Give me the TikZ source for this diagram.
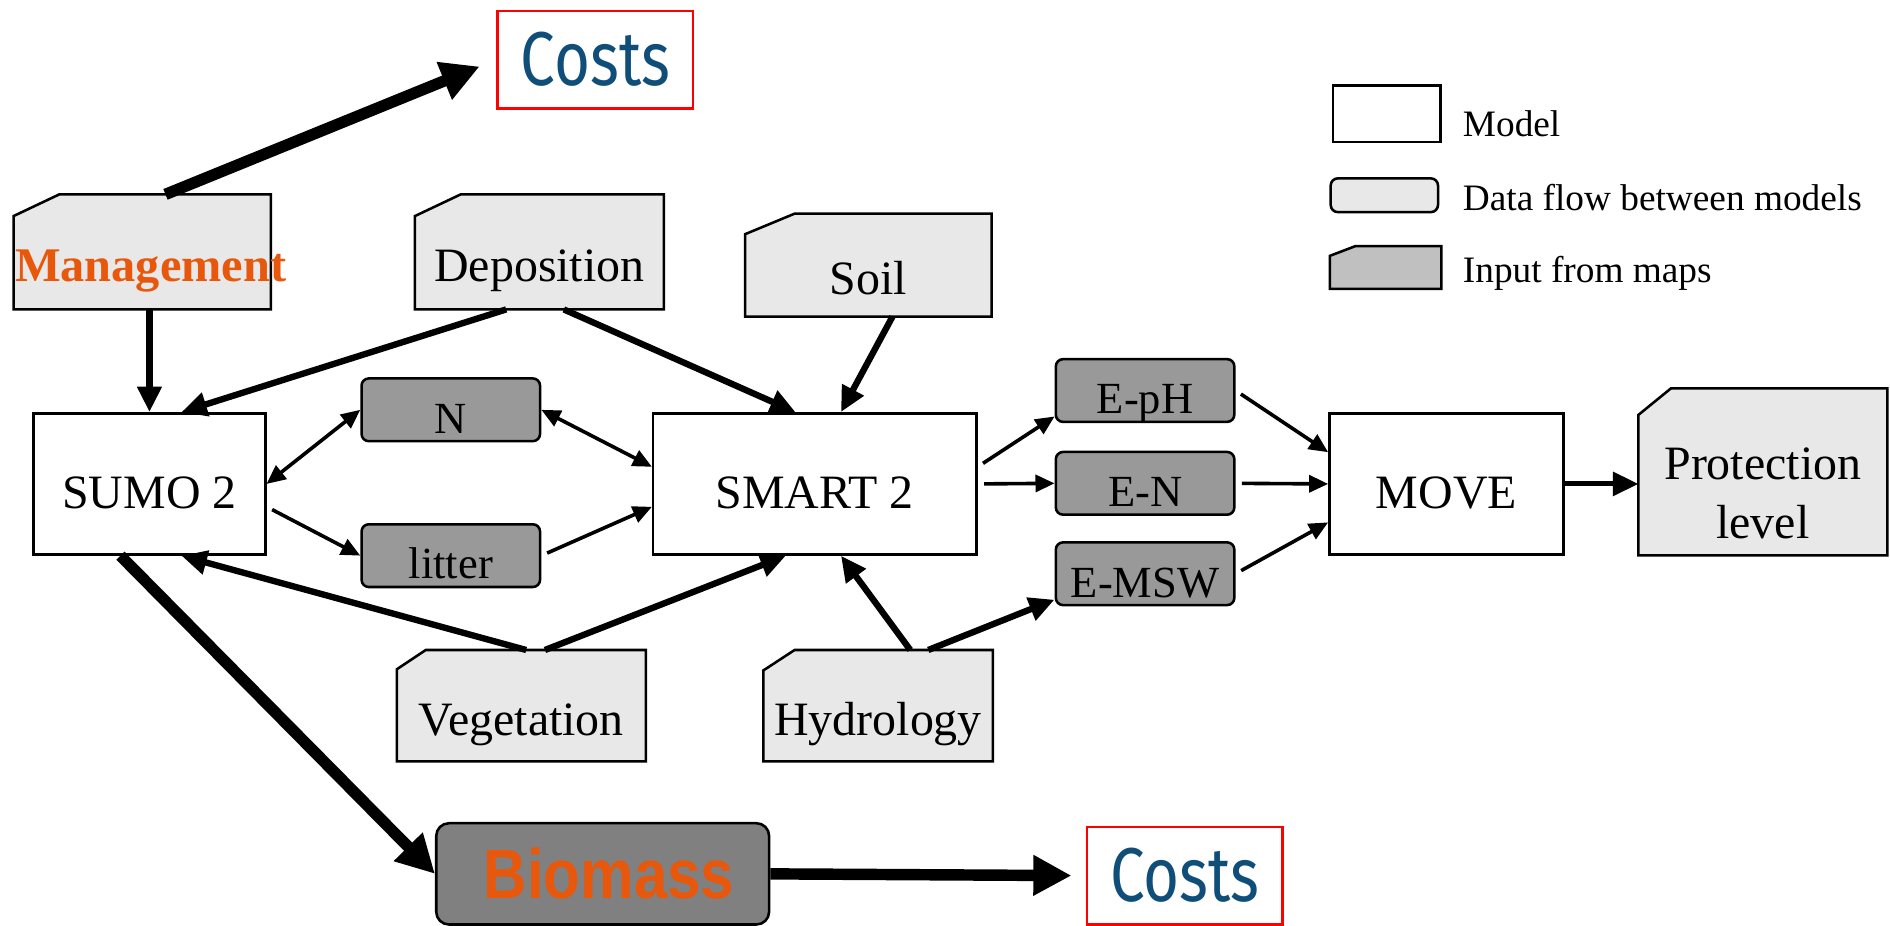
\documentclass[tikz,border=0pt]{standalone}
\usepackage{fontspec}
\setmainfont{Liberation Serif}
\newfontfamily\costsfont[FakeStretch=0.81]{Fira Sans}
\newfontfamily\boldsans[FakeStretch=0.86]{Liberation Sans}
\usetikzlibrary{arrows.meta}
\pgfdeclarelayer{background}
\pgfsetlayers{background,main}

\definecolor{costblue}{RGB}{16,78,122}
\definecolor{mgmtorange}{RGB}{232,88,12}
\definecolor{mapgray}{RGB}{232,232,232}
\definecolor{flowgray}{RGB}{153,153,153}
\definecolor{biogray}{RGB}{128,128,128}
\definecolor{leggray}{RGB}{192,192,192}

\tikzset{
  model/.style={draw, fill=white, line width=0.6pt, minimum width=#1, minimum height=1.17cm, inner sep=0pt, font=\fontsize{11.3}{13}\selectfont, text height=11.6pt, text depth=0pt},
  flow/.style={draw, fill=flowgray, rounded corners=1.7pt, line width=0.6pt, minimum width=1.48cm, minimum height=0.52cm, inner sep=0pt, font=\fontsize{10.5}{12}\selectfont, text height=11pt, text depth=0pt},
  mapin/.style={minimum width=#1, inner sep=0pt, font=\fontsize{11.3}{13}\selectfont, text height=14pt, text depth=0pt},
  mapline/.style={draw, fill=mapgray, line width=0.6pt},
  costbox/.style={draw=red, line width=0.6pt, minimum width=1.62cm, minimum height=0.81cm, inner sep=0pt, text=costblue, font=\costsfont\fontsize{18}{20}\selectfont},
  thinarr/.style={line width=0.85pt, shorten <=1.5pt, -{Triangle[length=4.5pt,width=4pt]}},
  dblarr/.style={line width=0.85pt, {Triangle[length=4.5pt,width=4pt]}-{Triangle[length=4.5pt,width=4pt]}},
  thickarr/.style={line width=1.5pt, -{Triangle[length=6pt,width=5.5pt]}},
  hugearr/.style={line width=2.7pt, -{Triangle[length=9pt,width=9pt]}},
  legtext/.style={anchor=base west, inner sep=0pt, font=\fontsize{8.8}{10}\selectfont}
}

\begin{document}
\begin{tikzpicture}[x=0.01cm, y=-0.01cm]
        % Define Variables
        \def\midrow{401.5}
        \def\maprow{209}
        \def\lowrow{585.5}
        \useasboundingbox (0,0) rectangle (1568,768);

        % Models
        \node[model=1.92cm] (sumo) at (124,\midrow) {SUMO 2};
        \node[model=2.68cm] (smart) at (676,\midrow) {SMART 2};
        \node[model=1.94cm] (move) at (1200,\midrow) {MOVE};

        % Data flow between models
        \node[flow] (nbox) at (374,340) {N};
        \node[flow] (litter) at (374,461) {litter};
        \node[flow] (eph) at (950,324) {E-pH};
        \node[flow] (en) at (950,401) {E-N};
        \node[flow] (emsw) at (950,476) {E-MSW};

        % Input from maps
        \node[mapin=2.12cm, minimum height=0.94cm, text=mgmtorange, font=\fontsize{11.4}{13}\selectfont\bfseries] (mgmt) at (118,\maprow) {\makebox[0pt]{\hspace*{4pt}Management}};
        \node[mapin=2.05cm, minimum height=0.94cm] (depo) at (447.5,\maprow) {Deposition};
        \node[mapin=2.03cm, minimum height=0.84cm] (soil) at (720.5,220) {Soil};
        \node[mapin=2.05cm, minimum height=0.91cm] (vege) at (432.5,\lowrow) {Vegetation};
        \node[mapin=1.89cm, minimum height=0.91cm] (hydro) at (728.5,\lowrow) {Hydrology};
        \node[mapin=2.05cm, minimum height=1.37cm, align=center, text height=31.6pt, text depth=0pt, font=\fontsize{11.3}{14}\selectfont] (prot) at (1462.5,391.5) {Protection\\level};

        % Biomass and costs
        \node[draw, fill=biogray, rounded corners=3pt, line width=0.6pt, minimum width=2.76cm, minimum height=0.84cm, inner sep=0pt, text=mgmtorange, font=\boldsans\bfseries\fontsize{16.5}{18}\selectfont] (biomass) at (500,725) {\hspace*{3pt}Biomass};
        \node[costbox] (costsA) at (494,49.5) {Costs};
        \node[costbox] (costsB) at (983,726.5) {Costs};

        % Legend
        \node[draw, fill=white, line width=0.6pt, minimum width=0.89cm, minimum height=0.47cm, inner sep=0pt] (legmodel) at (1150.5,94.5) {};
        \node[legtext] (legmodeltxt) at (1213,113) {Model};
        \node[draw, fill=mapgray, rounded corners=1.7pt, line width=0.6pt, minimum width=0.89cm, minimum height=0.28cm, inner sep=0pt] (legflow) at (1148.5,162) {};
        \node[legtext] (legflowtxt) at (1213,175) {Data flow between models};
        \node[minimum width=0.91cm, minimum height=0.34cm, inner sep=0pt] (leginput) at (1149.5,222) {};
        \node[legtext] (leginputtxt) at (1213,234) {Input from maps};

        % Cut corner boxes
        \begin{pgfonlayer}{background}
            \foreach \n/\cx/\cy in {mgmt/38/18, depo/38/18, soil/41/17, vege/24/16, hydro/26/17, prot/27/22}
                \filldraw[mapline] (\n.north west) ++(0,\cy) -- ++(\cx,-\cy) -- (\n.north east) -- (\n.south east) -- (\n.south west) -- cycle;
            \filldraw[mapline, fill=leggray] (leginput.north west) ++(0,8) -- ++(21,-8) -- (leginput.north east) -- (leginput.south east) -- (leginput.south west) -- cycle;
        \end{pgfonlayer}

        % Inputs to the models
        \draw[hugearr, shorten >=4.3pt] (mgmt.68) -- (costsA.west);
        \draw[thickarr] (sumo.north |- mgmt.south) -- (sumo.north);
        \draw[thickarr] (depo.240) -- (sumo.66);
        \draw[thickarr] (depo.293) -- (smart.105);
        \draw[thickarr] (soil.295) -- (smart.70);
        \draw[thickarr] (vege.85) -- (sumo.294);
        \draw[thickarr] (vege.67) -- (smart.248);
        \draw[thickarr] (hydro.60) -- (smart.290);
        \draw[thickarr] (hydro.48) -- (emsw.196);

        % Exchange between SUMO and SMART
        \draw[dblarr] (sumo.east) -- (nbox.west);
        \draw[dblarr] (nbox.east) -- (smart.174);
        \draw[thinarr] (sumo.349) -- (litter.west);
        \draw[thinarr] (litter.east) -- (smart.188);

        % SMART to MOVE
        \draw[thinarr] (smart.6) -- (eph.196);
        \draw[thinarr] (smart.east) -- (en.west);
        \draw[thinarr] (eph.east) -- (move.165);
        \draw[thinarr] (en.east) -- (move.west);
        \draw[thinarr] (emsw.east) -- (move.198);
        \draw[thickarr, line width=1.2pt] (move.east) -- (move.east -| prot.west);

        % Biomass
        \draw[hugearr] (sumo.248) -- (biomass.west);
        \draw[hugearr, shorten >=3.4pt] (biomass.east) -- (costsB.west);
\end{tikzpicture}
\end{document}
